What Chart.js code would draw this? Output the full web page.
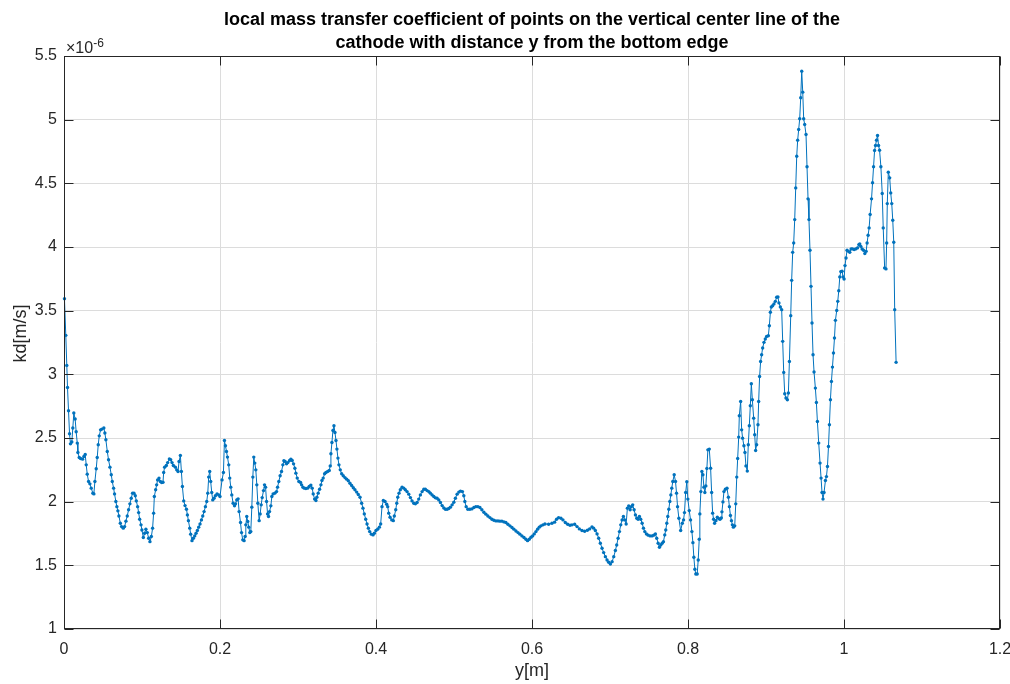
<!DOCTYPE html>
<html>
<head>
<meta charset="utf-8">
<script src="https://cdn.jsdelivr.net/npm/chart.js@4/dist/chart.umd.min.js"></script>
<style>
  html, body { margin: 0; padding: 0; background: #fff; }
  #wrap { width: 1010px; height: 684px; }
</style>
</head>
<body>
<div id="wrap"><canvas id="kdChart" width="1010" height="684"></canvas></div>
<script>
// distance y from the bottom edge [m]
const yPos = [
  0.0006,0.0023,0.0036,0.0045,0.0058,0.0071,0.0083,0.010,0.0113,0.0126,
  0.0143,0.0156,0.017,0.0178,0.0195,0.0212,0.0238,0.0255,0.0272,0.0285,
  0.0298,0.0315,0.0332,0.0349,0.037,0.0383,0.0396,0.0413,0.0426,0.0439,
  0.0452,0.0469,0.0486,0.0511,0.0524,0.0537,0.0555,0.0571,0.0589,0.0606,
  0.0619,0.0636,0.0648,0.0665,0.0678,0.0691,0.0704,0.0722,0.0738,0.076,
  0.0777,0.0794,0.0811,0.0828,0.0845,0.0862,0.0879,0.0897,0.0914,0.0927,
  0.0944,0.0957,0.097,0.0987,0.0999,0.1017,0.1034,0.105,0.1068,0.1085,
  0.1102,0.112,0.1136,0.1149,0.1158,0.1175,0.1188,0.12,0.1218,0.1235,
  0.1252,0.1269,0.1278,0.129,0.1312,0.1329,0.1351,0.1368,0.1385,0.1402,
  0.1428,0.1445,0.1462,0.1475,0.1492,0.1505,0.1518,0.1535,0.1552,0.157,
  0.1582,0.1595,0.1612,0.1624,0.1641,0.1659,0.1676,0.1693,0.171,0.1727,
  0.1744,0.1762,0.1779,0.1796,0.1813,0.183,0.1843,0.1855,0.1868,0.1881,
  0.1894,0.1907,0.1924,0.1941,0.1962,0.1984,0.2,
  0.2026,0.2044,0.2057,0.207,0.2083,0.2096,0.2112,0.2125,0.2138,0.2151,
  0.2168,0.2186,0.2199,0.2215,0.2232,0.2245,0.2263,0.2276,0.2292,0.2309,
  0.2322,0.2331,0.2343,0.2356,0.2369,0.2382,0.2395,0.2408,0.2421,0.2433,
  0.2446,0.2459,0.2472,0.2485,0.2502,0.2515,0.2528,0.2541,0.2558,0.2571,
  0.2584,0.2597,0.261,0.2622,0.2635,0.2652,0.2665,0.2681,0.2703,0.2725,
  0.2738,0.2754,0.2771,0.2789,0.2806,0.2819,0.2835,0.2853,0.287,0.2892,
  0.2909,0.2926,0.2943,0.296,0.2973,0.299,0.3011,0.3033,0.3046,0.3063,
  0.308,0.3101,0.3123,0.3144,0.3165,0.3182,0.3195,0.3213,0.323,0.3242,
  0.3259,0.3277,0.3294,0.3307,0.3323,0.3341,0.3358,0.338,0.3401,0.3413,
  0.3422,0.3435,0.3448,0.3461,0.3474,0.3487,0.3499,0.3512,0.3525,0.3542,
  0.356,0.358,0.3602,0.3624,0.3645,0.3666,0.3688,0.3709,0.373,0.3752,
  0.3773,0.3795,0.3816,0.3833,0.385,0.3868,0.3885,0.3902,0.3919,0.394,
  0.3962,0.3979,0.4,0.4022,0.4043,0.406,
  0.4077,0.4094,0.4116,0.4137,0.415,0.4163,0.418,0.4202,0.4222,0.4235,
  0.4253,0.4266,0.4279,0.4295,0.4312,0.4334,0.4356,0.4376,0.4398,0.442,
  0.4441,0.4462,0.4484,0.4505,0.4527,0.4548,0.4569,0.4591,0.4613,0.4633,
  0.4655,0.4677,0.4697,0.4719,0.4741,0.4762,0.4783,0.4805,0.4826,0.4848,
  0.4869,0.489,0.4912,0.4933,0.4954,0.4976,0.4998,0.5018,0.504,0.5062,
  0.5083,0.5108,0.5126,0.5139,0.5156,0.5177,0.5203,0.5229,0.5255,0.528,
  0.5306,0.5332,0.5357,0.5383,0.5409,0.5434,0.546,0.5486,0.5511,0.5537,
  0.5563,0.5588,0.5614,0.564,0.5665,0.5691,0.5717,0.5743,0.5768,0.5794,
  0.582,0.5845,0.5871,0.5897,0.5922,0.5943,0.5965,0.5987,0.6008,0.6029,
  0.6051,0.6072,0.6093,0.6115,0.6141,0.6166,
  0.6213,0.6256,0.629,0.6315,0.6341,0.6371,0.6397,0.6427,0.6457,0.6487,
  0.6513,0.6547,0.6577,0.6607,0.6641,0.6675,0.671,0.6739,0.6769,0.679,
  0.6812,0.6834,0.6855,0.6876,0.6898,0.6919,0.6941,0.6962,0.6983,0.7005,
  0.7027,0.7048,0.7069,0.7086,0.7104,0.7121,0.7138,0.7155,0.7172,0.7189,
  0.7207,0.7223,0.724,0.7258,0.7274,0.7291,0.7309,0.7326,0.7343,0.736,
  0.7377,0.7394,0.7412,0.7429,0.7446,0.7467,0.7489,0.7514,0.754,0.7561,
  0.7582,0.7599,0.7617,0.7634,0.7651,0.7669,0.7685,0.7702,0.7715,0.7728,
  0.7741,0.7754,0.7767,0.778,0.7792,0.7805,0.7823,0.784,0.7853,0.7866,
  0.7883,
  0.7906,0.7927,0.7943,0.7955,0.797,0.7985,0.7998,0.8016,0.8033,0.805,
  0.8063,0.8075,0.8088,0.81,0.8118,0.8131,0.8144,0.8152,0.8165,0.8178,
  0.8191,0.8204,0.8216,0.8229,0.8242,0.8255,0.8273,0.829,0.8303,0.8316,
  0.8328,0.8341,0.8358,0.8376,0.8393,0.841,0.8427,0.8435,0.8448,0.8461,
  0.8479,0.85,0.8518,0.8531,0.8544,0.8557,0.8569,0.8582,0.8599,0.8612,
  0.8625,0.8637,0.865,0.8658,0.8675,0.8688,0.87,0.8717,0.873,0.8743,
  0.876,0.8773,0.8786,0.8799,0.8812,0.8825,0.8842,0.8855,0.8867,0.888,
  0.8897,0.8906,0.8918,0.8931,0.8944,0.8957,0.8974,0.8991,0.9008,0.903,
  0.9043,0.9056,0.9068,0.9085,0.9102,0.912,0.9137,0.9153,0.9166,0.9184,
  0.9201,0.9214,0.9227,0.924,0.9256,0.9274,0.9287,0.93,
  0.9317,0.9329,0.9342,0.9355,0.9368,0.9381,0.9394,0.9406,0.9419,0.9432,
  0.9445,0.9458,0.9471,0.9483,0.9496,0.9513,0.9526,0.9539,0.9551,0.9564,
  0.9577,0.959,0.9603,0.9616,0.9633,0.9646,0.9659,0.9676,0.9693,0.9706,
  0.9718,0.9731,0.9744,0.9762,0.9775,0.9788,0.9801,0.9813,0.9826,0.9839,
  0.9852,0.9865,0.9878,0.989,0.9907,0.992,0.9933,0.9946,0.9959,0.9975,
  0.9988,1.0001,1.0013,1.0026,1.0039,1.0057,1.0074,1.0091,1.0109,1.013,
  1.0151,1.0173,1.019,1.0202,1.0215,1.0232,1.025,1.0267,1.0284,1.0296,
  1.0309,1.0322,1.0335,1.0353,1.0366,1.0379,1.0392,1.0404,1.0417,1.043,
  1.0443,1.0456,1.0473,1.049,1.0503,1.0521,1.0538,1.0547,1.0555,1.0568,
  1.0586,1.0599,1.0612,1.0625,1.0638,1.065,1.0668
];

// local mass transfer coefficient kd, in units of 1e-6 m/s
const kd = [
  3.594,3.306,3.07,2.897,2.714,2.533,2.454,2.468,2.578,2.696,
  2.649,2.549,2.46,2.386,2.347,2.339,2.334,2.355,2.37,2.289,
  2.216,2.158,2.14,2.106,2.067,2.061,2.158,2.258,2.347,2.447,
  2.517,2.564,2.57,2.578,2.539,2.486,2.394,2.329,2.271,2.211,
  2.158,2.106,2.061,2.001,1.961,1.928,1.888,1.831,1.804,1.792,
  1.804,1.847,1.888,1.936,1.983,2.027,2.067,2.067,2.046,2.006,
  1.961,1.914,1.862,1.818,1.778,1.718,1.752,1.784,1.757,1.713,
  1.686,1.726,1.792,1.91,2.04,2.093,2.132,2.171,2.185,2.158,
  2.15,2.153,2.229,2.271,2.284,2.307,2.336,2.329,2.307,2.284,
  2.271,2.25,2.237,2.316,2.362,2.237,2.119,2.006,1.969,1.941,
  1.896,1.851,1.792,1.745,1.694,1.713,1.731,1.752,1.773,1.8,
  1.825,1.857,1.888,1.922,1.961,2.001,2.067,2.193,2.237,2.158,
  2.072,2.014,2.027,2.046,2.061,2.053,2.04,
  2.171,2.229,2.48,2.439,2.394,2.35,2.289,2.185,2.114,2.053,
  1.988,1.967,1.983,2.014,2.022,1.922,1.836,1.757,1.7,1.694,
  1.726,1.818,1.883,1.844,1.8,1.757,1.765,1.957,2.193,2.35,
  2.303,2.25,2.132,1.988,1.851,1.904,1.975,2.032,2.087,2.132,
  2.114,2.001,1.904,1.883,1.922,1.967,2.04,2.061,2.067,2.079,
  2.114,2.158,2.203,2.237,2.289,2.321,2.316,2.297,2.307,2.323,
  2.334,2.323,2.297,2.263,2.224,2.185,2.158,2.15,2.132,2.114,
  2.106,2.103,2.106,2.119,2.13,2.106,2.061,2.02,2.009,2.035,
  2.067,2.098,2.132,2.166,2.185,2.219,2.229,2.237,2.245,2.281,
  2.376,2.465,2.559,2.596,2.543,2.48,2.413,2.342,2.289,2.25,
  2.219,2.203,2.189,2.177,2.164,2.145,2.127,2.109,2.093,2.075,
  2.056,2.035,1.988,1.949,1.904,1.862,1.825,1.792,1.765,1.745,
  1.739,1.752,1.773,1.784,1.8,1.825,
  1.961,2.009,2.001,1.98,1.961,1.91,1.878,1.857,1.851,1.888,
  1.936,1.988,2.035,2.067,2.093,2.114,2.106,2.093,2.079,2.059,
  2.032,2.006,1.988,1.983,1.993,2.02,2.053,2.079,2.098,2.098,
  2.087,2.079,2.067,2.053,2.04,2.03,2.027,2.014,1.993,1.969,
  1.951,1.941,1.941,1.946,1.957,1.975,1.996,2.027,2.059,2.075,
  2.083,2.079,2.046,2.001,1.961,1.941,1.941,1.943,1.954,1.961,
  1.961,1.954,1.936,1.917,1.902,1.888,1.875,1.862,1.854,1.849,
  1.849,1.847,1.847,1.841,1.836,1.823,1.81,1.797,1.784,1.77,
  1.757,1.745,1.731,1.718,1.705,1.694,1.705,1.721,1.731,1.747,
  1.765,1.784,1.8,1.81,1.818,1.825,
  1.823,1.831,1.839,1.862,1.875,1.87,1.857,1.836,1.823,1.815,
  1.818,1.823,1.804,1.786,1.773,1.768,1.776,1.786,1.802,1.792,
  1.773,1.747,1.713,1.674,1.634,1.6,1.568,1.542,1.524,1.511,
  1.529,1.568,1.616,1.66,1.713,1.765,1.818,1.857,1.883,1.857,
  1.825,1.949,1.967,1.936,1.961,1.975,1.936,1.896,1.87,1.862,
  1.883,1.862,1.831,1.792,1.765,1.747,1.737,1.731,1.731,1.737,
  1.747,1.713,1.674,1.642,1.66,1.674,1.686,1.739,1.778,1.831,
  1.883,1.941,2.001,2.053,2.106,2.158,2.211,2.158,2.067,1.961,
  1.87,
  1.773,1.831,1.857,1.914,2.072,2.156,2.02,1.93,1.857,1.765,
  1.678,1.564,1.469,1.432,1.432,1.542,1.705,1.904,2.079,2.237,
  2.211,2.114,2.072,2.124,2.26,2.407,2.413,2.263,2.072,1.91,
  1.862,1.831,1.851,1.878,1.867,1.862,1.872,1.92,1.998,2.079,
  2.098,2.106,2.035,1.961,1.891,1.851,1.818,1.8,1.81,1.983,
  2.193,2.339,2.507,2.675,2.787,2.564,2.499,2.439,2.386,2.281,
  2.24,2.447,2.596,2.753,2.926,2.8,2.656,2.525,2.402,2.447,
  2.604,2.787,2.983,3.101,3.154,3.207,3.251,3.277,3.298,3.303,
  3.382,3.487,3.529,3.539,3.553,3.573,3.605,3.608,3.561,3.529,
  3.508,3.259,3.015,2.847,2.814,2.8,2.853,3.101,
  3.461,3.738,3.958,4.032,4.215,4.464,4.713,4.839,4.923,5.007,
  5.172,5.381,5.216,5.007,4.962,4.884,4.63,4.378,4.215,3.974,
  3.691,3.403,3.154,3.018,2.892,2.779,2.63,2.46,2.303,2.185,
  2.072,2.02,2.072,2.166,2.197,2.276,2.433,2.604,2.8,2.944,
  3.057,3.167,3.285,3.424,3.502,3.573,3.657,3.765,3.807,3.809,
  3.765,3.749,3.854,3.914,3.974,3.966,3.958,3.985,3.985,3.98,
  3.985,3.993,4.019,4.024,4.005,3.985,3.974,3.948,3.966,4.032,
  4.092,4.15,4.255,4.378,4.504,4.63,4.758,4.797,4.839,4.876,
  4.797,4.76,4.63,4.42,4.15,3.836,3.828,4.032,4.341,4.588,
  4.543,4.425,4.341,4.21,4.037,3.508,3.094
];

const xTicks = [0, 0.2, 0.4, 0.6, 0.8, 1, 1.2];
const yTicks = [1, 1.5, 2, 2.5, 3, 3.5, 4, 4.5, 5, 5.5];
const titleLines = [
  'local mass transfer coefficient of points on the vertical center line of the',
  'cathode with distance y from the bottom edge'
];
const yLabel = 'kd[m/s]';

const FONT = '"Liberation Sans", Arial, Helvetica, sans-serif';
const INK = '#262626';
const BLUE = '#0072BD';

const n = Math.min(yPos.length, kd.length);
const points = [];
for (let i = 0; i < n; i++) points.push({ x: yPos[i], y: kd[i] });

// box, inward ticks, titles and the x10^-6 multiplier, drawn MATLAB style
const matlabAxes = {
  id: 'matlabAxes',
  afterDraw(chart) {
    const { ctx, chartArea: a, scales: { x, y } } = chart;
    const L = a.left + 0.5, R = a.right - 0.5, T = a.top + 0.5, B = a.bottom - 0.5;
    const tl = 9;
    ctx.save();
    ctx.strokeStyle = INK;
    ctx.lineWidth = 1;
    ctx.beginPath();
    xTicks.forEach(v => {
      const px = Math.round(x.getPixelForValue(v)) + 0.5;
      ctx.moveTo(px, B); ctx.lineTo(px, B - tl);
      ctx.moveTo(px, T); ctx.lineTo(px, T + tl);
    });
    yTicks.forEach(v => {
      const py = Math.round(y.getPixelForValue(v)) + 0.5;
      ctx.moveTo(L, py); ctx.lineTo(L + tl, py);
      ctx.moveTo(R, py); ctx.lineTo(R - tl, py);
    });
    ctx.stroke();
    ctx.strokeRect(L, T, R - L, B - T);

    // title
    const cx = (a.left + a.right) / 2;
    ctx.fillStyle = '#000';
    ctx.font = 'bold 18px ' + FONT;
    ctx.textAlign = 'center';
    ctx.textBaseline = 'alphabetic';
    ctx.fillText(titleLines[0], cx, 25);
    ctx.fillText(titleLines[1], cx, 48);

    // y axis label
    ctx.save();
    ctx.fillStyle = INK;
    ctx.font = '18px ' + FONT;
    ctx.textBaseline = 'middle';
    ctx.translate(21, (a.top + a.bottom) / 2 - 9);
    ctx.rotate(-Math.PI / 2);
    ctx.fillText(yLabel, 0, 0);
    ctx.restore();

    // exponent label
    ctx.fillStyle = INK;
    ctx.textAlign = 'left';
    ctx.textBaseline = 'alphabetic';
    ctx.font = '16px ' + FONT;
    ctx.fillText('\u00d710', a.left + 2, a.top - 3);
    const w = ctx.measureText('\u00d710').width;
    ctx.font = '12px ' + FONT;
    ctx.fillText('-6', a.left + 2 + w, a.top - 9);
    ctx.restore();
  }
};

new Chart(document.getElementById('kdChart'), {
  type: 'line',
  data: {
    datasets: [{
      data: points,
      borderColor: BLUE,
      backgroundColor: BLUE,
      borderWidth: 1,
      pointRadius: 1.7,
      pointBorderWidth: 0,
      pointBackgroundColor: BLUE,
      tension: 0,
      clip: false
    }]
  },
  options: {
    responsive: false,
    animation: false,
    layout: { padding: { top: 56, right: 10, left: 0, bottom: 0 } },
    plugins: {
      legend: { display: false },
      tooltip: { enabled: false },
      title: { display: false }
    },
    scales: {
      x: {
        type: 'linear',
        min: 0,
        max: 1.2,
        afterBuildTicks: s => { s.ticks = xTicks.map(v => ({ value: v })); },
        afterFit: s => { s.height = 55; s.paddingLeft = 0; s.paddingRight = 0; },
        ticks: {
          autoSkip: false,
          maxRotation: 0,
          padding: 11,
          color: INK,
          font: { family: FONT, size: 16 },
          callback: v => String(v)
        },
        grid: { color: '#dcdcdc', lineWidth: 1, drawTicks: false },
        border: { display: false },
        title: {
          display: true,
          text: 'y[m]',
          color: INK,
          font: { family: FONT, size: 18 },
          padding: { top: 0, bottom: 2 }
        }
      },
      y: {
        type: 'linear',
        min: 1,
        max: 5.5,
        afterBuildTicks: s => { s.ticks = yTicks.map(v => ({ value: v })); },
        afterFit: s => { s.width = 64; s.paddingTop = 0; s.paddingBottom = 0; },
        ticks: {
          padding: 7,
          color: INK,
          font: { family: FONT, size: 16 },
          callback: v => String(v)
        },
        grid: { color: '#dcdcdc', lineWidth: 1, drawTicks: false },
        border: { display: false },
        title: { display: false }
      }
    }
  },
  plugins: [matlabAxes]
});
</script>
</body>
</html>
